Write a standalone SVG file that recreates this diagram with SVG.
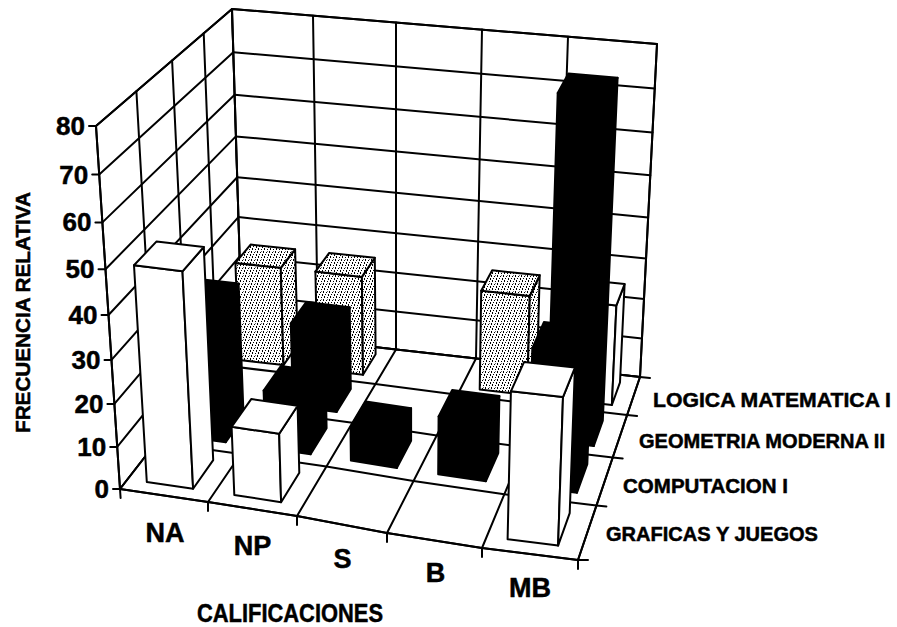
<svg xmlns="http://www.w3.org/2000/svg" width="897" height="627" viewBox="0 0 897 627">
<defs>
<pattern id="stip" width="6" height="8" patternUnits="userSpaceOnUse">
<rect width="6" height="8" fill="#fff"/>
<rect x="0" y="0" width="1" height="2" fill="#000"/>
<rect x="3" y="1" width="1" height="1" fill="#000"/>
<rect x="5" y="3" width="1" height="2" fill="#000"/>
<rect x="2" y="4" width="1" height="1" fill="#000"/>
<rect x="1" y="6" width="1" height="1" fill="#000"/>
<rect x="4" y="6" width="1" height="2" fill="#000"/>
<rect x="3" y="3" width="1" height="1" fill="#777"/>
</pattern>
<style>
.ln{fill:none;stroke:#000;stroke-width:2;stroke-linecap:round;stroke-linejoin:round}
.wall{fill:#fff;stroke:#000;stroke-width:2;stroke-linejoin:round}
.w polygon{fill:#fff;stroke:#000;stroke-width:2;stroke-linejoin:round}
.k polygon{fill:#000;stroke:#000;stroke-width:2;stroke-linejoin:round}
.s polygon{fill:url(#stip);stroke:#000;stroke-width:2;stroke-linejoin:round}
text{font-family:"Liberation Sans",Arial,sans-serif;font-weight:bold;fill:#000;stroke:#000;stroke-width:0.5}
.num{font-size:26px;text-anchor:end}
.cat{font-size:27px;text-anchor:middle}
.ser{font-size:20.5px}
</style>
</defs>
<rect width="897" height="627" fill="#fff"/>

<g id="walls">
<polygon class="wall" points="120,489 96,126 232,9 242,332"/>
<polygon class="wall" points="242,332 232,9 657,44 640,377 557,367.5 476,358.5 396,349.5 318,340.5"/>
<polygon class="wall" points="120,489 208,502 297,516 387,533 482,548 578,560 640,377 557,367.5 476,358.5 396,349.5 318,340.5 242,332"/>
<path class="ln" d="M117.2,446.9 L240.8,294.5 M114.4,403.9 L239.7,256.3 M111.5,359.9 L238.4,217.1 M108.5,315 L237.2,177.2 M105.5,269.2 L235.9,136.4 M102.4,222.4 L234.7,94.8 M99.2,174.6 L233.3,52.3"/>
<path class="ln" d="M156.3,442.3 L136.4,91.2 M188.3,401.2 L172.1,60.5 M216.6,364.6 L203.7,33.3"/>
<path class="ln" d="M240.8,294.5 L642,338.4 M239.7,256.3 L644,298.9 M238.4,217.1 L646,258.6 M237.2,177.2 L648.1,217.4 M235.9,136.4 L650.3,175.3 M234.7,94.8 L652.5,132.4 M233.3,52.3 L654.7,88.6"/>
<path class="ln" d="M318,340.5 L313,15.7 M396,349.5 L396,22.5 M476,358.5 L482,29.6 M557,367.5 L568,36.7"/>
<path class="ln" d="M156.3,442.3 L240.7,454 L326.4,466.5 L413.5,481.1 L504.3,494.3 L596.4,505.6 M188.3,401.2 L269.5,411.6 L352.4,422.8 L436.8,435.4 L524,447 L612.7,457.6 M216.6,364.6 L295.1,374.1 L375.4,384.1 L457.5,394.8 L541.4,405 L627.1,415.1"/>
<path class="ln" d="M208,502 L318,340.5 M297,516 L396,349.5 M387,533 L476,358.5 M482,548 L557,367.5"/>
<path class="ln" d="M120.6,498 L96,126 L232,9 L657,44 L640,377 M232,9 L242,332 L318,340.5 L396,349.5 L476,358.5 L557,367.5 L640,377 L578,560 L482,548 L387,533 L297,516 L208,502 L120,489 L242,332"/>
</g>

<g id="ticks">
<path class="ln" d="M89,126 H96 M92.2,174.6 H99.2 M95.4,222.4 H102.4 M98.5,269.2 H105.5 M101.5,315 H108.5 M104.5,359.9 H111.5 M107.4,403.9 H114.4 M110.2,446.9 H117.2 M113,489 H120"/>
<path class="ln" d="M208,502 V511 M297,516 V525 M387,533 V542 M482,548 V557 M578,560 V569"/>
<path class="ln" d="M578,560 L588,560 M596.4,505.6 L606.4,506.5 M612.7,457.6 L622.7,458.5 M627.1,415.1 L637.1,416 M640,377 L650,378"/>
</g>

<g id="bars-logica">
<g id="logica-na" class="s">
<polygon points="239.1,359.9 283.5,365.1 280.8,267.8 235.4,262.9"/>
<polygon points="283.5,365.1 297.6,345.1 295.1,249.3 280.8,267.8"/>
<polygon points="235.4,262.9 280.8,267.8 295.1,249.3 250.6,244.6"/>
</g>
<g id="logica-np" class="s">
<polygon points="317.5,369.2 363,374.8 361.9,276.9 315.4,271.6"/>
<polygon points="363,374.8 375.6,354.2 374.8,257.8 361.9,276.9"/>
<polygon points="315.4,271.6 361.9,276.9 374.8,257.8 329.2,252.9"/>
</g>
<g id="logica-b" class="s">
<polygon points="479.7,389.4 527.2,395.1 529.8,296 481.2,290.7"/>
<polygon points="527.2,395.1 536.9,372.7 539.7,275.2 529.8,296"/>
<polygon points="481.2,290.7 529.8,296 539.7,275.2 492.2,270.3"/>
</g>
<g id="logica-mb" class="w">
<polygon points="563.4,399.4 611.9,405 616.4,305.4 566.8,300.1"/>
<polygon points="611.9,405 620,382.3 624.6,284.1 616.4,305.4"/>
<polygon points="566.8,300.1 616.4,305.4 624.6,284.1 576,279"/>
</g>
</g>

<g id="bars-geometria">
<g id="geometria-np" class="k">
<polygon points="293,406.2 336.6,412 335.3,329 290.8,323.4"/>
<polygon points="336.6,412 350.8,388.9 349.7,307.3 335.3,329"/>
<polygon points="290.8,323.4 335.3,329 349.7,307.3 306.2,302.1"/>
</g>
<g id="geometria-mb" class="k">
<polygon points="547,440.5 593.7,446.1 608.1,97.5 557.7,93"/>
<polygon points="593.7,446.1 602.8,420.6 617.6,77.8 608.1,97.5"/>
<polygon points="557.7,93 608.1,97.5 617.6,77.8 568.4,73.5"/>
</g>
</g>

<g id="bars-computacion">
<g id="computacion-na" class="k">
<polygon points="181.4,436.2 225.8,442.2 220.2,306.3 174.5,300.7"/>
<polygon points="225.8,442.2 243.6,417 238.6,283.6 220.2,306.3"/>
<polygon points="174.5,300.7 220.2,306.3 238.6,283.6 193.9,278.4"/>
</g>
<g id="computacion-np" class="k">
<polygon points="265.5,447.8 310.6,454.3 309.3,396.9 263.6,390.6"/>
<polygon points="310.6,454.3 326.6,428.3 325.5,372 309.3,396.9"/>
<polygon points="263.6,390.6 309.3,396.9 325.5,372 280.8,366.1"/>
</g>
<g id="computacion-s" class="k">
<polygon points="350.9,460.4 396.8,468 396.7,434.7 350.5,427.3"/>
<polygon points="396.8,468 411.1,440.9 411.1,408.2 396.7,434.7"/>
<polygon points="350.5,427.3 396.7,434.7 411.1,408.2 365.8,401.4"/>
</g>
<g id="computacion-b" class="k">
<polygon points="438.2,474.3 485.9,481.2 486.9,423.1 438.6,416.5"/>
<polygon points="485.9,481.2 498.3,453 499.4,396.1 486.9,423.1"/>
<polygon points="438.6,416.5 486.9,423.1 499.4,396.1 452.2,389.9"/>
</g>
<g id="computacion-mb" class="k">
<polygon points="528.6,486.8 577,492.7 582.2,353.5 532.3,348.1"/>
<polygon points="577,492.7 587.3,464.1 592.7,327.4 582.2,353.5"/>
<polygon points="532.3,348.1 582.2,353.5 592.7,327.4 543.9,322.1"/>
</g>
</g>

<g id="bars-graficas">
<g id="graficas-na" class="w">
<polygon points="146.8,482 193.1,488.7 182.5,271.3 134,265.3"/>
<polygon points="193.1,488.7 213.2,460.1 203.8,247 182.5,271.3"/>
<polygon points="134,265.3 182.5,271.3 203.8,247 156.6,241.4"/>
</g>
<g id="graficas-np" class="w">
<polygon points="234.3,494.9 281.1,502.2 279.2,433.8 231.6,426.8"/>
<polygon points="281.1,502.2 299.3,472.7 297.6,405.7 279.2,433.8"/>
<polygon points="231.6,426.8 279.2,433.8 297.6,405.7 251.2,399.1"/>
</g>
<g id="graficas-mb" class="w">
<polygon points="507.6,539.3 558.1,545.6 563,397.1 510.9,391.3"/>
<polygon points="558.1,545.6 569.7,513.1 574.9,367.6 563,397.1"/>
<polygon points="510.9,391.3 563,397.1 574.9,367.6 524.1,361.9"/>
</g>
</g>

<g id="labels">
<text class="num" x="85" y="135">80</text>
<text class="num" x="88.2" y="183.6">70</text>
<text class="num" x="91.4" y="231.4">60</text>
<text class="num" x="94.5" y="278.2">50</text>
<text class="num" x="97.5" y="324">40</text>
<text class="num" x="100.5" y="368.9">30</text>
<text class="num" x="103.4" y="412.9">20</text>
<text class="num" x="106.2" y="455.9">10</text>
<text class="num" x="109" y="498">0</text>
<text x="30" y="312.5" font-size="20" text-anchor="middle" textLength="241" lengthAdjust="spacingAndGlyphs" transform="rotate(-90 30 312.5)">FRECUENCIA RELATIVA</text>
<text class="cat" x="165" y="542">NA</text>
<text class="cat" x="252.5" y="555">NP</text>
<text class="cat" x="342.5" y="568">S</text>
<text class="cat" x="435.5" y="582">B</text>
<text class="cat" x="530" y="597">MB</text>
<text x="197" y="622" font-size="26" textLength="186" lengthAdjust="spacingAndGlyphs">CALIFICACIONES</text>
<text class="ser" x="653" y="407" textLength="238" lengthAdjust="spacingAndGlyphs">LOGICA MATEMATICA I</text>
<text class="ser" x="639" y="448" textLength="246" lengthAdjust="spacingAndGlyphs">GEOMETRIA MODERNA II</text>
<text class="ser" x="623" y="493" textLength="165" lengthAdjust="spacingAndGlyphs">COMPUTACION I</text>
<text class="ser" x="606" y="541" textLength="212" lengthAdjust="spacingAndGlyphs">GRAFICAS Y JUEGOS</text>
</g>
</svg>
